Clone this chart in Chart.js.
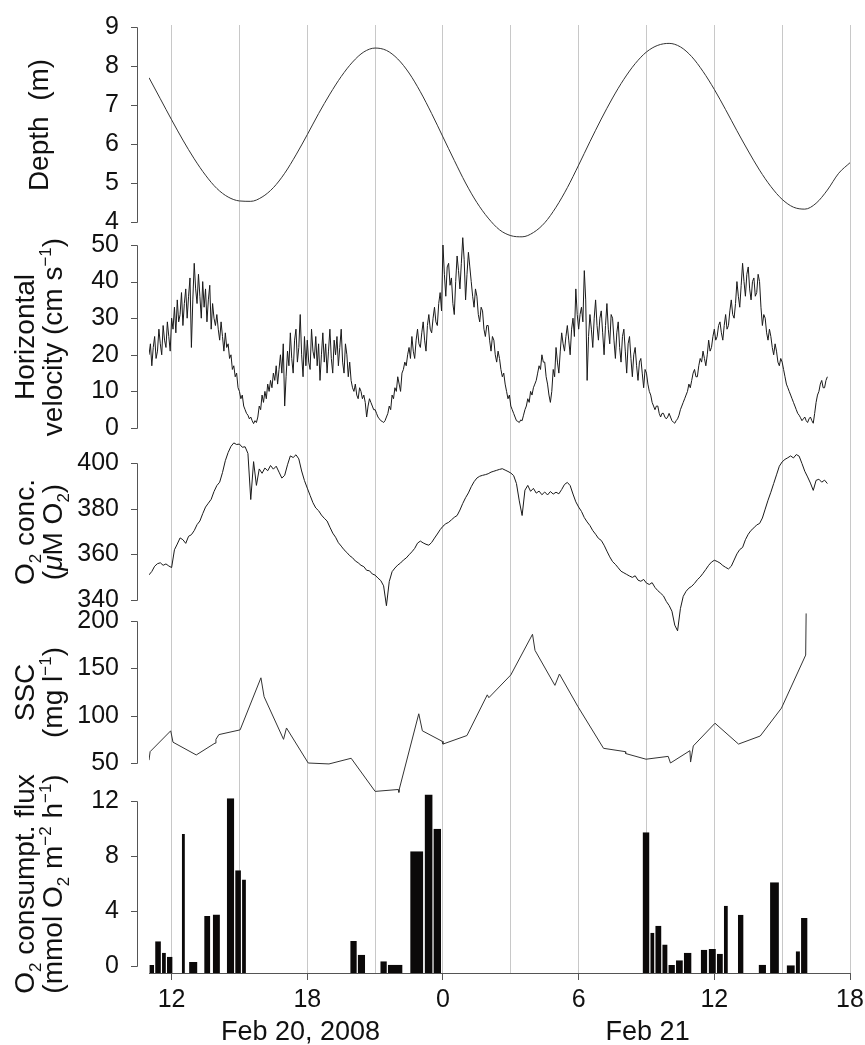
<!DOCTYPE html>
<html lang="en">
<head>
<meta charset="UTF-8">
<title>Tidal cycle - depth, velocity, O2, SSC and O2 consumption flux</title>
<script src="https://cdn.jsdelivr.net/npm/chart.js"></script>
<style>
  html, body { margin: 0; padding: 0; background: #fff; }
  #wrap { width: 865px; height: 1045px; }
</style>
</head>
<body>
<div id="wrap"><canvas id="tideChart" width="865" height="1045"></canvas></div>
<script>
// time axis in hours since Feb 20, 2008 00:00
const X_MIN = 11, X_MAX = 42;
const gridHours = [12, 15, 18, 21, 24, 27, 30, 33, 36, 39, 42];
const tickHours = [12, 18, 24, 30, 36, 42];
const tickLabels = ['12', '18', '0', '6', '12', '18'];
const dayHours = [17.7, 33.05];
const dayLabels = ['Feb 20, 2008', 'Feb 21'];

// y ticks per panel
const depthTicks = [4, 5, 6, 7, 8, 9];
const velTicks = [0, 10, 20, 30, 40, 50];
const o2Ticks = [340, 360, 380, 400];
const sscTicks = [50, 100, 150, 200];
const fluxTicks = [0, 4, 8, 12];

// water depth (m), every 30 min from 11:00
const depthStart = 11, depthStep = 0.5;
const depth = [
  7.70, 7.16, 6.62, 6.10, 5.62, 5.20, 4.86, 4.64, 4.54, 4.53,
  4.64, 4.88, 5.25, 5.72, 6.24, 6.78, 7.28, 7.73, 8.10, 8.36,
  8.46, 8.40, 8.18, 7.82, 7.34, 6.78, 6.18, 5.58, 5.00, 4.50,
  4.10, 3.80, 3.65, 3.62, 3.73, 3.98, 4.38, 4.88, 5.46, 6.06,
  6.64, 7.18, 7.66, 8.06, 8.36, 8.53, 8.58, 8.49, 8.24, 7.86,
  7.40, 6.88, 6.34, 5.82, 5.33, 4.91, 4.58, 4.38, 4.33, 4.48,
  4.82, 5.25, 5.52
];

// ADCP horizontal velocity (cm/s), one value every 3.75 min from 11:00
const velStart = 11, velStep = 0.0625;
const velocity = [
  20, 23, 17, 22, 25, 19, 21, 27, 23, 20, 28, 24, 22, 29, 25, 21,
  30, 27, 33, 26, 35, 29, 31, 37, 28, 34, 38, 30, 36, 41, 22, 35,
  45, 38, 34, 42, 36, 30, 40, 33, 38, 29, 35, 39, 27, 34, 30, 28,
  31, 27, 24, 29, 25, 21, 26, 22, 23, 19, 20, 16, 17, 14, 15, 11,
  10, 8, 9, 6, 5, 4, 3.5, 2.5, 3, 2, 1.2, 2, 1.5, 3, 6, 5,
  9, 7, 10, 8, 12, 10, 13, 11, 15, 13, 17, 12, 16, 20, 15, 23,
  6, 14, 21, 17, 26, 19, 15, 24, 27, 18, 22, 31, 20, 14, 25, 17,
  24, 18, 16, 27, 21, 19, 25, 17, 23, 13, 20, 26, 18, 23, 15, 21,
  27, 19, 15, 24, 20, 25, 17, 22, 27, 18, 15, 23, 20, 14, 18, 13,
  11, 10, 12, 9, 8, 11, 10, 8, 9, 7, 3, 6, 8, 7, 6, 5,
  5, 4, 3, 2.5, 2, 1.8, 1.5, 2, 3, 4, 6, 5, 9, 8, 11, 10,
  14, 12, 10, 15, 16, 18, 17, 20, 22, 19, 25, 21, 19, 24, 27, 23,
  22, 26, 29, 24, 21, 28, 31, 27, 26, 30, 33, 29, 28, 34, 37, 32,
  50, 42, 36, 44, 45, 39, 41, 34, 31, 40, 47, 43, 38, 45, 52, 46,
  35, 42, 48, 44, 40, 36, 33, 38, 36, 31, 29, 33, 32, 27, 25, 28,
  28, 24, 21, 25, 24, 20, 18, 21, 19, 16, 14, 15, 12, 10, 8, 9,
  6, 5, 4, 3, 2, 1.8, 1.5, 2.2, 2, 3.5, 5, 6, 8, 7, 10, 9,
  11, 12, 13, 15, 17, 16, 20, 18, 18, 14, 12, 9, 7, 10, 16, 14,
  22, 18, 15, 21, 26, 23, 21, 25, 28, 24, 20, 27, 30, 25, 38, 31,
  27, 31, 33, 29, 43, 35, 13, 25, 31, 27, 22, 30, 35, 28, 24, 30,
  32, 26, 20, 28, 34, 27, 23, 31, 30, 24, 19, 26, 29, 22, 18, 25,
  27, 21, 15, 23, 25, 19, 14, 20, 22, 17, 13, 18, 19, 15, 11, 16,
  15, 12, 10, 9, 7, 6, 5, 6, 6, 4, 3, 4, 4, 3, 2.5, 3,
  4, 3, 2, 1.6, 1.3, 2, 2.5, 3.5, 5, 6, 7, 8, 9, 10, 12, 11,
  13, 15, 16, 14, 14, 17, 19, 18, 21, 19, 17, 20, 24, 21, 22, 25,
  27, 24, 25, 28, 29, 26, 24, 28, 31, 27, 28, 32, 35, 31, 30, 34,
  40, 36, 33, 39, 45, 40, 36, 42, 44, 38, 35, 40, 41, 36, 37, 42,
  40, 33, 28, 31, 30, 26, 24, 27, 25, 22, 20, 23, 21, 18, 17, 19,
  18, 16, 14, 12, 11, 10, 9, 8, 7, 6, 5, 4, 3.5, 2.8, 2, 2.5,
  3, 2, 1.5, 2.5, 3, 2, 1.3, 4, 7, 9, 10, 12, 13, 11, 11, 13,
  14
];

// optode O2 concentration (uM), one value every 7.5 min from 11:00
const o2Start = 11, o2Step = 0.125;
const oxygen = [
  351.0, 352.5, 354.8, 355.9, 356.3, 355.2, 355.8, 354.9,
  354.2, 362.0, 364.5, 367.2, 366.4, 364.8, 367.9, 368.6,
  370.4, 373.0, 374.6, 377.8, 380.7, 382.4, 384.1, 387.5,
  390.1, 391.6, 395.8, 401.0, 404.6, 407.3, 408.8, 408.1,
  408.3, 406.9, 407.1, 404.2, 384.0, 400.6, 390.2, 397.4,
  395.5, 397.8, 396.6, 398.9, 397.3, 398.6, 396.0, 393.4,
  394.6, 399.2, 403.1, 402.4, 403.6, 401.8, 396.5, 392.3,
  389.0, 385.8, 382.6, 380.3, 379.1, 377.2, 375.8, 374.6,
  371.9, 369.3, 367.5, 365.1, 363.6, 362.0, 360.8, 359.4,
  358.5, 357.1, 356.3, 355.2, 354.6, 353.0, 352.8, 351.4,
  350.9, 349.6, 348.5, 346.2, 337.5, 348.1, 352.4, 354.0,
  355.3, 356.2, 357.5, 358.4, 359.8, 361.1, 362.6, 364.9,
  365.8, 365.0, 364.4, 364.0, 365.2, 367.1, 368.9, 370.8,
  372.3, 373.4, 374.0, 375.1, 376.2, 377.0, 379.4, 382.3,
  384.8, 386.9, 389.6, 391.8, 393.4, 394.2, 394.6, 394.9,
  395.3, 396.0, 396.4, 396.8, 397.2, 397.5, 396.9, 396.3,
  395.6, 394.5, 391.0, 383.4, 377.0, 388.1, 390.2, 387.6,
  388.9, 386.8, 387.7, 386.1, 387.3, 386.0, 387.5, 386.4,
  387.2, 386.5, 388.4, 390.6, 391.5, 390.1, 386.4, 383.0,
  380.7, 378.8, 376.1, 374.2, 372.6, 370.4, 368.8, 367.0,
  366.1, 364.0, 361.4, 358.9, 356.8, 355.6, 354.1, 352.6,
  351.9, 351.2, 350.5, 349.9, 350.6, 348.7, 348.2, 349.0,
  347.4, 346.8, 347.6, 345.5, 344.1, 343.0, 341.8, 339.4,
  337.6, 335.1, 329.0, 326.5, 336.2, 341.6, 343.8, 345.2,
  346.0, 347.3, 348.9, 350.1, 351.7, 353.4, 355.2, 356.6,
  357.4, 356.9, 356.2, 355.1, 354.3, 353.6, 354.8, 357.5,
  360.2, 362.1, 363.0, 366.4, 368.8, 370.5, 371.6, 372.9,
  373.5, 375.9, 379.8, 383.7, 387.2, 391.0, 394.8, 398.6,
  400.5, 401.6, 402.3, 403.1, 402.2, 403.7, 403.0, 399.8,
  396.4, 393.9, 391.2, 388.0, 392.4, 392.9, 391.6, 392.5,
  391.0
];

// suspended sediment (mg/l) from water samples
const sscTime = [
  11.0, 11.05, 11.96, 12.06, 13.09, 13.92, 13.96, 14.09, 15.03, 15.95,
  16.09, 16.95, 17.08, 18.04, 18.96, 19.94, 21.0, 22.02, 22.05, 22.07,
  22.93, 23.09, 23.96, 24.0, 25.06, 25.96, 26.03, 27.0, 27.96, 28.07,
  28.95, 29.15, 29.97, 31.1, 32.06, 32.08, 32.98, 33.96, 34.06, 34.92,
  34.95, 35.07, 36.03, 37.07, 38.03, 38.97, 40.04, 40.06
];
const ssc = [
  53, 62, 84, 72, 58.5, 71, 75, 80, 85, 140,
  120, 75, 87, 50, 49, 55, 20, 22, 19, 22.5,
  102, 84, 73, 70, 79, 122, 119, 143, 186, 169,
  132, 144, 109.5, 65.5, 62, 60, 54, 57, 50, 63,
  51, 68, 92, 70, 78.5, 108, 164, 208
];

// O2 consumption flux (mmol O2 m-2 h-1) per eddy-correlation interval
const fluxFrom = [
  11.0, 11.25, 11.55, 11.77, 12.43, 12.75, 13.42, 13.80, 14.42, 14.79, 15.09,
  19.88, 20.21, 21.21, 21.54, 22.53, 23.17, 23.56,
  32.81, 33.15, 33.37, 33.68, 33.95, 34.28, 34.63, 35.38, 35.73, 36.09, 36.40,
  37.02, 37.94, 38.44, 39.18, 39.58, 39.81
];
const fluxTo = [
  11.25, 11.55, 11.77, 12.06, 12.61, 13.16, 13.73, 14.16, 14.79, 15.09, 15.31,
  20.21, 20.58, 21.54, 22.23, 23.15, 23.56, 23.94,
  33.15, 33.37, 33.68, 33.95, 34.28, 34.63, 35.01, 35.71, 36.09, 36.40, 36.62,
  37.31, 38.31, 38.88, 39.58, 39.81, 40.14
];
const flux = [
  0.07, 1.8, 0.97, 0.68, 9.6, 0.3, 3.63, 3.75, 12.2, 6.97, 6.3,
  1.82, 0.82, 0.34, 0.1, 8.35, 12.47, 9.98,
  9.73, 2.42, 2.93, 1.57, 0.08, 0.41, 0.97, 1.19, 1.23, 0.9, 4.38,
  3.73, 0.1, 6.1, 0.06, 1.07, 3.49
];

const FONT = "'Liberation Sans', Arial, Helvetica, sans-serif";
const INK = '#111';
const AXIS_COLOR = '#555';
const GRID_COLOR = '#c8c8c8';
const TICK_SIZE = 25;
const TITLE_SIZE = 28;

// plot area and where each panel's first/last tick sits
const PLOT_TOP = 25, PLOT_BOTTOM = 973;
function band(lo, hi, pxLo, pxHi) {
  const k = (hi - lo) / (pxLo - pxHi);
  return { min: lo - (PLOT_BOTTOM - pxLo) * k, max: hi + (pxHi - PLOT_TOP) * k };
}
const depthRange = band(4, 9, 222, 27);
const velRange = band(0, 50, 428, 245);
const o2Range = band(340, 400, 600, 463);
const sscRange = band(50, 200, 763, 621);
const fluxRange = band(0, 12, 966, 801);

// bars whose width is an explicit time interval
class IntervalBarController extends Chart.BarController {
  _calculateBarIndexPixels(index) {
    const d = this.getDataset().data[index];
    const scale = this._cachedMeta.iScale;
    const a = scale.getPixelForValue(d.from);
    const b = scale.getPixelForValue(d.to);
    return { base: a, head: b, center: (a + b) / 2, size: b - a };
  }
}
IntervalBarController.id = 'intervalBar';
Chart.register(IntervalBarController);

const series = (start, step, values) => values.map((v, i) => ({ x: start + i * step, y: v }));
const pairs = (xs, ys) => xs.map((x, i) => ({ x, y: ys[i] }));

function panelScale(range, ticks) {
  return {
    type: 'linear',
    position: 'left',
    min: range.min,
    max: range.max,
    afterBuildTicks: s => { s.ticks = ticks.map(v => ({ value: v })); },
    afterFit: s => { s.width = 0; s.paddingTop = 0; s.paddingBottom = 0; },
    grid: { display: false, drawTicks: false },
    border: { display: false },
    ticks: { autoSkip: false, padding: 30, color: INK, font: { family: FONT, size: TICK_SIZE } }
  };
}

// axis titles, one array of runs per line
const panels = [
  { id: 'yDepth', ticks: depthTicks, title: [[['Depth  (m)']]] },
  { id: 'yVel', ticks: velTicks, title: [[['Horizontal']], [['velocity (cm s'], ['\u22121', 'sup'], [')']]] },
  { id: 'yO2', ticks: o2Ticks, title: [[['O'], ['2', 'sub'], [' conc.']], [['('], ['\u03bc', 'it'], ['M O'], ['2', 'sub'], [')']]] },
  { id: 'ySsc', ticks: sscTicks, title: [[['SSC']], [['(mg l'], ['\u22121', 'sup'], [')']]] },
  { id: 'yFlux', ticks: fluxTicks, title: [[['O'], ['2', 'sub'], [' consumpt. flux']], [['(mmol O'], ['2', 'sub'], [' m'], ['\u22122', 'sup'], [' h'], ['\u22121', 'sup'], [')']]] }
];

function runFont(kind, size) {
  const small = kind === 'sub' || kind === 'sup';
  return (kind === 'it' ? 'italic ' : '') + Math.round(small ? size * 0.62 : size) + 'px ' + FONT;
}

function drawRotatedLine(ctx, runs, cx, cy, size) {
  let total = 0;
  const widths = runs.map(([t, k]) => {
    ctx.font = runFont(k, size);
    const w = ctx.measureText(t).width;
    total += w;
    return w;
  });
  ctx.save();
  ctx.translate(cx, cy);
  ctx.rotate(-Math.PI / 2);
  ctx.textBaseline = 'alphabetic';
  ctx.textAlign = 'left';
  ctx.fillStyle = INK;
  let x = -total / 2;
  runs.forEach(([t, k], i) => {
    ctx.font = runFont(k, size);
    const shift = k === 'sub' ? size * 0.24 : k === 'sup' ? -size * 0.4 : 0;
    ctx.fillText(t, x, size * 0.36 + shift);
    x += widths[i];
  });
  ctx.restore();
}

// R-style y axes: line spans only the tick range, plus rotated titles
const panelFrame = {
  id: 'panelFrame',
  afterLayout(chart) {
    // the y scales take no width; let their labels draw into the left margin
    panels.forEach(p => { chart.scales[p.id].left = 0; });
  },
  afterDraw(chart) {
    const { ctx, chartArea } = chart;
    const axisX = chartArea.left - 12;
    ctx.save();
    ctx.strokeStyle = AXIS_COLOR;
    ctx.lineWidth = 1;
    panels.forEach(p => {
      const s = chart.scales[p.id];
      const yTop = Math.round(s.getPixelForValue(p.ticks[p.ticks.length - 1])) + 0.5;
      const yBot = Math.round(s.getPixelForValue(p.ticks[0])) + 0.5;
      ctx.beginPath();
      ctx.moveTo(axisX + 0.5, yTop);
      ctx.lineTo(axisX + 0.5, yBot);
      p.ticks.forEach(v => {
        const y = Math.round(s.getPixelForValue(v)) + 0.5;
        ctx.moveTo(axisX - 6, y);
        ctx.lineTo(axisX + 0.5, y);
      });
      ctx.stroke();
      const cy = (yTop + yBot) / 2;
      const xs = p.title.length === 1 ? [38] : [24, 52];
      p.title.forEach((line, i) => drawRotatedLine(ctx, line, xs[i], cy, TITLE_SIZE));
    });
    ctx.restore();
  }
};

const lineStyle = { borderColor: '#1a1a1a', borderWidth: 1, pointRadius: 0, fill: false, xAxisID: 'x' };

new Chart(document.getElementById('tideChart'), {
  type: 'line',
  data: {
    datasets: [
      Object.assign({ label: 'Depth', yAxisID: 'yDepth', data: series(depthStart, depthStep, depth),
        cubicInterpolationMode: 'monotone' }, lineStyle, { borderColor: '#333' }),
      Object.assign({ label: 'Velocity', yAxisID: 'yVel', data: series(velStart, velStep, velocity) }, lineStyle),
      Object.assign({ label: 'O2', yAxisID: 'yO2', data: series(o2Start, o2Step, oxygen) }, lineStyle),
      Object.assign({ label: 'SSC', yAxisID: 'ySsc', data: pairs(sscTime, ssc) }, lineStyle, { borderColor: '#333' }),
      {
        type: 'intervalBar',
        label: 'O2 flux',
        xAxisID: 'x',
        yAxisID: 'yFlux',
        data: flux.map((v, i) => ({ x: (fluxFrom[i] + fluxTo[i]) / 2, y: v, from: fluxFrom[i], to: fluxTo[i] })),
        base: fluxRange.min,
        grouped: false,
        backgroundColor: '#0b0909',
        borderColor: 'rgba(255,255,255,0.6)',
        borderWidth: { left: 0.6, right: 0.6, top: 0, bottom: 0 },
        borderSkipped: false
      }
    ]
  },
  options: {
    responsive: false,
    animation: false,
    devicePixelRatio: 1,
    events: [],
    layout: { padding: { left: 149, right: 15, top: PLOT_TOP, bottom: 0 } },
    plugins: { legend: { display: false }, tooltip: { enabled: false } },
    scales: {
      x: {
        type: 'linear',
        position: 'bottom',
        min: X_MIN,
        max: X_MAX,
        offset: false,
        afterBuildTicks: s => { s.ticks = gridHours.map(v => ({ value: v })); },
        afterFit: s => { s.height = 40; s.paddingLeft = 0; s.paddingRight = 0; },
        grid: {
          color: GRID_COLOR,
          lineWidth: 1,
          offset: false,
          drawTicks: true,
          tickLength: 7,
          tickColor: c => (c.tick && tickHours.includes(c.tick.value)) ? AXIS_COLOR : 'rgba(0,0,0,0)'
        },
        border: { display: true, color: AXIS_COLOR, width: 1 },
        ticks: {
          autoSkip: false,
          maxRotation: 0,
          padding: 5,
          color: INK,
          font: { family: FONT, size: TICK_SIZE },
          callback: v => { const i = tickHours.indexOf(v); return i < 0 ? '' : tickLabels[i]; }
        }
      },
      xDate: {
        type: 'linear',
        position: 'bottom',
        weight: 1,
        min: X_MIN,
        max: X_MAX,
        offset: false,
        afterBuildTicks: s => { s.ticks = dayHours.map(v => ({ value: v })); },
        afterFit: s => { s.height = 32; s.paddingLeft = 0; s.paddingRight = 0; },
        grid: { display: false, drawTicks: false, offset: false },
        border: { display: false },
        ticks: {
          autoSkip: false,
          maxRotation: 0,
          padding: 3,
          color: INK,
          font: { family: FONT, size: 27 },
          callback: v => dayLabels[dayHours.indexOf(v)]
        }
      },
      yDepth: panelScale(depthRange, depthTicks),
      yVel: panelScale(velRange, velTicks),
      yO2: panelScale(o2Range, o2Ticks),
      ySsc: panelScale(sscRange, sscTicks),
      yFlux: panelScale(fluxRange, fluxTicks)
    }
  },
  plugins: [panelFrame]
});
</script>
</body>
</html>
